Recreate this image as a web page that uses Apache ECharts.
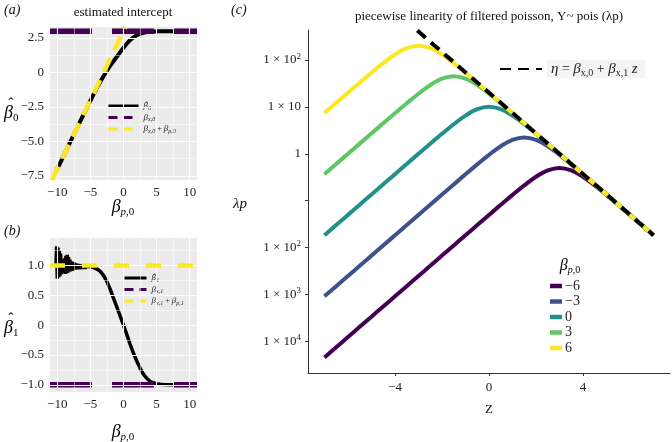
<!DOCTYPE html>
<html><head><meta charset="utf-8">
<script src="https://cdn.jsdelivr.net/npm/echarts@6/dist/echarts.min.js"></script>
<style>html,body{margin:0;padding:0;background:#fff}#c{width:672px;height:442px}</style>
</head><body><div id="c"></div>
<script>
// ---------------- Panel (a): estimated intercept ----------------
const aBetaP0   = [-10.2, -9, -8, -7, -6, -5, -4, -3, -2, -1, 0, 1, 2, 3, 4, 5, 6, 7.5];
const aBetaHat0 = [-7.2, -6.0, -5.0, -4.0, -3.02, -2.05, -1.1, -0.25, 0.5, 1.15, 1.8, 2.35, 2.7, 2.88, 2.95, 2.98, 3.0, 3.0];
const aBetaX0 = 3;
const aSumX = [-10.8, 0.3];
const aSumY = [-7.8, 3.3];
const abXRange = [-11.1, 11.1];
const aYRange = [-7.8, 3.3];
const abXTicks = [-10, -5, 0, 5, 10];
const abXMinor = [-7.5, -2.5, 2.5, 7.5];
const aYTicks = [-7.5, -5, -2.5, 0, 2.5];
const aYMinor = [-6.25, -3.75, -1.25, 1.25];

// ---------------- Panel (b): estimated slope ----------------
const bBetaP0 = [-10.2,-10.1,-10.0,-9.9,-9.8,-9.7,-9.6,-9.5,-9.4,-9.3,-9.2,-9.1,-9.0,-8.9,-8.8,-8.7,-8.6,-8.5,-8.4,-8.3,-8.2,-8.1,-8.0,-7.9,-7.8,-7.7,-7.6,-7.5,-7.4,-7.3,-7.2,-7.1,-7.0,-6.8,-6.6,-6.4,-6.2,-6.0,-5.8,-5.6,-5.4,-5.2,-5.0,-4.5,-4,-3.5,-3,-2.5,-2,-1.5,-1,-0.5,0,0.5,1,1.5,2,2.5,3,3.5,4,4.5,5,5.5,6,7,7.5];
const bBetaHat1 = [1.0,1.32,0.78,1.3,0.8,1.25,0.82,1.2,0.85,1.1,0.9,1.05,0.88,1.12,0.86,1.16,0.87,1.18,0.88,1.14,0.9,1.1,0.9,1.07,0.91,1.06,0.92,1.05,0.93,1.04,0.93,1.03,0.94,1.02,0.94,1.01,0.95,1.0,0.95,0.99,0.96,0.98,0.96,0.965,0.94,0.9,0.83,0.73,0.6,0.45,0.3,0.15,0,-0.16,-0.32,-0.47,-0.6,-0.72,-0.82,-0.89,-0.94,-0.965,-0.98,-0.99,-0.995,-1.0,-1.0];
const bBetaX1 = -1;
const bBetaSum1 = 1;
const bYRange = [-1.12, 1.46];
const bYTicks = [-1, -0.5, 0, 0.5, 1];
const bYMinor = [-0.75, -0.25, 0.25, 0.75, 1.25];

// ---------------- Panel (c): log10(lambda p) vs z ----------------
const zGrid = [-7,-6.5,-6,-5.5,-5,-4.5,-4,-3.5,-3,-2.5,-2,-1.5,-1,-0.5,0,0.5,1,1.5,2,2.5,3,3.5,4,4.5,5,5.5,6,6.5,7];
const cSeriesNames = ['−6', '−3', '0', '3', '6'];
const cColors = ['#440154', '#3B528B', '#21908C', '#5DC863', '#FDE725'];
const logLamP_m6 = [-4.343,-4.126,-3.909,-3.691,-3.474,-3.257,-3.040,-2.823,-2.606,-2.389,-2.171,-1.954,-1.737,-1.520,-1.304,-1.089,-0.876,-0.673,-0.489,-0.353,-0.301,-0.353,-0.489,-0.673,-0.876,-1.089,-1.304,-1.520,-1.737];
const logLamP_m3 = [-3.040,-2.823,-2.606,-2.389,-2.172,-1.955,-1.738,-1.520,-1.303,-1.086,-0.869,-0.653,-0.438,-0.225,-0.022,0.162,0.298,0.350,0.298,0.162,-0.022,-0.225,-0.438,-0.653,-0.869,-1.086,-1.303,-1.520,-1.738];
const logLamP_0  = [-1.737,-1.520,-1.303,-1.086,-0.868,-0.651,-0.434,-0.217,0.000,0.214,0.427,0.630,0.814,0.950,1.002,0.950,0.814,0.630,0.427,0.214,0.000,-0.217,-0.434,-0.651,-0.868,-1.086,-1.303,-1.520,-1.737];
const logLamP_3  = [-0.435,-0.217,0.000,0.217,0.434,0.650,0.865,1.078,1.281,1.465,1.601,1.653,1.601,1.465,1.281,1.078,0.865,0.650,0.434,0.217,0.000,-0.217,-0.435,-0.652,-0.869,-1.086,-1.303,-1.520,-1.737];
const logLamP_6  = [0.869,1.086,1.302,1.517,1.730,1.933,2.117,2.253,2.305,2.253,2.117,1.933,1.730,1.517,1.302,1.086,0.869,0.652,0.435,0.217,0.000,-0.217,-0.434,-0.651,-0.868,-1.085,-1.303,-1.520,-1.737];
const cLogValues = [logLamP_m6, logLamP_m3, logLamP_0, logLamP_3, logLamP_6];
const etaZ = [-3.05, 7];
const etaLog = [2.627, -1.737];
const cXRange = [-7.7, 7.7];
const cYRange = [-4.675, 2.64];
const cXTicks = [-4, 0, 4];
const cYTicks = [-4, -3, -2, -1, 0, 1, 2];
const cYTickLabels = ['1 × 10{sup|4}', '1 × 10{sup|3}', '1 × 10{sup|2}', '', '1', '1 × 10', '1 × 10{sup|2}'];

// ---------------- rendering ----------------
const FONT = '"Liberation Serif", "DejaVu Serif", serif';
const HATFONT = '"DejaVu Serif", serif';
const GREY = '#EBEBEB';
const fmtNum = (v, dec) => v === 0 ? '0' : (v < 0 ? '−' : '') + Math.abs(v).toFixed(dec);
const zip = (xs, ys) => xs.map((x, i) => [x, ys[i]]);

const chart = echarts.init(document.getElementById('c'), null, {renderer: 'canvas'});

function gridLines(xMajor, xMinor, yMajor, yMinor) {
  const d = [];
  xMajor.forEach(v => d.push({xAxis: v, lineStyle: {width: 1.1}}));
  xMinor.forEach(v => d.push({xAxis: v, lineStyle: {width: 0.5}}));
  yMajor.forEach(v => d.push({yAxis: v, lineStyle: {width: 1.1}}));
  yMinor.forEach(v => d.push({yAxis: v, lineStyle: {width: 0.5}}));
  return d;
}

function abXAxis(gi) {
  return {
    gridIndex: gi, type: 'value', min: abXRange[0], max: abXRange[1],
    axisLine: {show: false}, splitLine: {show: false},
    axisTick: {show: true, customValues: abXTicks, length: 3, lineStyle: {color: '#333', width: 1}},
    axisLabel: {customValues: abXTicks, formatter: v => fmtNum(v, 0), fontFamily: FONT, fontSize: 13, color: '#222', margin: 6}
  };
}

const richSmall = {
  b: {fontFamily: FONT, fontSize: 9, fontStyle: 'italic', color: '#222'},
  h: {fontFamily: HATFONT, fontSize: 8, fontStyle: 'italic', color: '#222'},
  s: {fontFamily: FONT, fontSize: 6, fontStyle: 'italic', color: '#222', padding: [4, 0, 0, 0]},
  t: {fontFamily: FONT, fontSize: 8, color: '#222'}
};
const legendLabels = {
  a_hat: '{h|β\u0302}{s|0}',
  a_x0: '{b|β}{s|x,0}',
  a_sum: '{b|β}{s|x,0}{t| + }{b|β}{s|p,0}',
  b_hat: '{h|β\u0302}{s|1}',
  b_x1: '{b|β}{s|x,1}',
  b_sum: '{b|β}{s|x,1}{t| + }{b|β}{s|p,1}'
};

const richBig = {
  b: {fontFamily: FONT, fontSize: 18, fontStyle: 'italic', color: '#111'},
  s: {fontFamily: FONT, fontSize: 11, fontStyle: 'italic', color: '#111', padding: [10, 0, 0, 0]},
  n: {fontFamily: FONT, fontSize: 11, color: '#111', padding: [10, 0, 0, 0]}
};

const series = [];
// grid lines panels a & b
series.push({type: 'line', xAxisIndex: 0, yAxisIndex: 0, data: [], z: 1, silent: true,
  markLine: {silent: true, symbol: 'none', animation: false, label: {show: false}, lineStyle: {color: '#fff', type: 'solid'},
    data: gridLines(abXTicks, abXMinor, aYTicks, aYMinor)}});
series.push({type: 'line', xAxisIndex: 1, yAxisIndex: 1, data: [], z: 1, silent: true,
  markLine: {silent: true, symbol: 'none', animation: false, label: {show: false}, lineStyle: {color: '#fff', type: 'solid'},
    data: gridLines(abXTicks, abXMinor, bYTicks, bYMinor)}});

// panel a
series.push({name: 'a_hat', type: 'line', xAxisIndex: 0, yAxisIndex: 0, symbol: 'none', smooth: 0.3, z: 3,
  color: '#000', lineStyle: {color: '#000', width: 4}, data: zip(aBetaP0, aBetaHat0)});
series.push({name: 'a_x0', type: 'line', xAxisIndex: 0, yAxisIndex: 0, symbol: 'none', z: 4,
  color: '#440154', lineStyle: {color: '#440154', width: 5.5, type: [42, 20]}, data: zip(abXRange, [aBetaX0, aBetaX0])});
series.push({name: 'a_sum', type: 'line', xAxisIndex: 0, yAxisIndex: 0, symbol: 'none', z: 5,
  color: '#FDE725', lineStyle: {color: '#FDE725', width: 4.5, type: [15, 9]}, data: zip(aSumX, aSumY)});
// panel b
series.push({name: 'b_hat', type: 'line', xAxisIndex: 1, yAxisIndex: 1, symbol: 'none', z: 3,
  color: '#000', lineStyle: {color: '#000', width: 3.5}, data: zip(bBetaP0, bBetaHat1)});
series.push({name: 'b_x1', type: 'line', xAxisIndex: 1, yAxisIndex: 1, symbol: 'none', z: 4,
  color: '#440154', lineStyle: {color: '#440154', width: 5.5, type: [42, 20]}, data: zip(abXRange, [bBetaX1, bBetaX1])});
series.push({name: 'b_sum', type: 'line', xAxisIndex: 1, yAxisIndex: 1, symbol: 'none', z: 5,
  color: '#FDE725', lineStyle: {color: '#FDE725', width: 4.5, type: [15, 17]}, data: zip(abXRange, [bBetaSum1, bBetaSum1])});
// panel c
cLogValues.forEach((vals, i) => {
  series.push({name: cSeriesNames[i], type: 'line', xAxisIndex: 2, yAxisIndex: 2, symbol: 'none', smooth: 0.4, z: 3 + i * 0.1,
    color: cColors[i], lineStyle: {color: cColors[i], width: 4}, data: zip(zGrid, vals)});
});
series.push({name: 'eta', type: 'line', xAxisIndex: 2, yAxisIndex: 2, symbol: 'none', z: 5,
  color: '#000', lineStyle: {color: '#000', width: 4, type: [11, 7]}, data: zip(etaZ, etaLog)});

const noSym = {opacity: 0, borderWidth: 0};
const hat = (x, y) => ({type: 'text', x: x, y: y, style: {text: 'ˆ', fontFamily: FONT, fontSize: 16, fill: '#111', align: 'center', verticalAlign: 'middle'}});

const option = {
  animation: false,
  backgroundColor: '#fff',
  grid: [
    {left: 50, top: 27, width: 147, height: 153, show: true, backgroundColor: GREY, borderWidth: 0},
    {left: 50, top: 238, width: 147, height: 154, show: true, backgroundColor: GREY, borderWidth: 0},
    {left: 308, top: 30, right: 2, bottom: 69}
  ],
  xAxis: [
    abXAxis(0), abXAxis(1),
    {gridIndex: 2, type: 'value', min: cXRange[0], max: cXRange[1], splitLine: {show: false},
      axisLine: {show: true, onZero: false, lineStyle: {color: '#333', width: 1}},
      axisTick: {show: true, customValues: cXTicks, length: 3, lineStyle: {color: '#333'}},
      axisLabel: {customValues: cXTicks, formatter: v => fmtNum(v, 0), fontFamily: FONT, fontSize: 13, color: '#222', margin: 8}}
  ],
  yAxis: [
    {gridIndex: 0, type: 'value', min: aYRange[0], max: aYRange[1], axisLine: {show: false}, splitLine: {show: false},
      axisTick: {show: true, customValues: aYTicks, length: 3, lineStyle: {color: '#333'}},
      axisLabel: {customValues: aYTicks, formatter: v => fmtNum(v, 1), fontFamily: FONT, fontSize: 13, color: '#222', margin: 6}},
    {gridIndex: 1, type: 'value', min: bYRange[0], max: bYRange[1], axisLine: {show: false}, splitLine: {show: false},
      axisTick: {show: true, customValues: bYTicks, length: 3, lineStyle: {color: '#333'}},
      axisLabel: {customValues: bYTicks, formatter: v => fmtNum(v, 1), fontFamily: FONT, fontSize: 13, color: '#222', margin: 6}},
    {gridIndex: 2, type: 'value', min: cYRange[0], max: cYRange[1], splitLine: {show: false},
      axisLine: {show: true, onZero: false, lineStyle: {color: '#333', width: 1}},
      axisTick: {show: true, customValues: cYTicks, length: 3, lineStyle: {color: '#333'}},
      axisLabel: {customValues: cYTicks, formatter: v => cYTickLabels[cYTicks.indexOf(Math.round(v))],
        fontFamily: FONT, fontSize: 13, color: '#222', margin: 7,
        rich: {sup: {fontFamily: FONT, fontSize: 9, color: '#222', padding: [0, 0, 7, 0]}}}}
  ],
  legend: [
    {data: [{name: 'a_hat', lineStyle: {type: 'solid', width: 3}, itemStyle: noSym}, {name: 'a_x0', lineStyle: {type: [9, 6], width: 3}, itemStyle: noSym}, {name: 'a_sum', lineStyle: {type: [9, 6], width: 3}, itemStyle: noSym}],
      orient: 'vertical', left: 105, top: 101, itemWidth: 30, itemHeight: 8, itemGap: 2, padding: [1, 3, 1, 2],
      backgroundColor: GREY, selectedMode: false, formatter: n => legendLabels[n], textStyle: {rich: richSmall}},
    {data: [{name: 'b_hat', lineStyle: {type: 'solid', width: 3}, itemStyle: noSym}, {name: 'b_x1', lineStyle: {type: [9, 6], width: 3}, itemStyle: noSym}, {name: 'b_sum', lineStyle: {type: [9, 6], width: 3}, itemStyle: noSym}],
      orient: 'vertical', left: 121, top: 273, itemWidth: 22, itemHeight: 8, itemGap: 2, padding: [1, 3, 1, 2],
      backgroundColor: GREY, selectedMode: false, formatter: n => legendLabels[n], textStyle: {rich: richSmall}},
    {data: cSeriesNames.map(n => ({name: n})), orient: 'vertical', left: 550, top: 279, icon: 'rect',
      itemWidth: 12, itemHeight: 4.5, itemGap: 1.5, padding: 0, selectedMode: false,
      textStyle: {fontFamily: FONT, fontSize: 14, color: '#222', lineHeight: 12, padding: [0, 0, 0, -2]}},
    {data: [{name: 'eta', itemStyle: noSym}], left: 499, top: 60, itemWidth: 42, itemHeight: 12, padding: 0, selectedMode: false,
      formatter: () => '{i|η} = {i|β}{s|x,0} + {i|β}{s|x,1} {i|z}',
      textStyle: {fontFamily: FONT, fontSize: 14, color: '#222', backgroundColor: '#F4F4F4', padding: [0, 8, 0, 4],
        rich: {i: {fontFamily: FONT, fontSize: 15, fontStyle: 'italic', color: '#222'},
               s: {fontFamily: FONT, fontSize: 10, color: '#222', padding: [8, 0, 0, 0]}}}}
  ],
  graphic: [
    {type: 'text', x: 4, y: 3, style: {text: '(a)', fontFamily: FONT, fontSize: 14, fontStyle: 'italic', fill: '#111'}},
    {type: 'text', x: 123, y: 13, style: {text: 'estimated intercept', fontFamily: FONT, fontSize: 13, fill: '#111', align: 'center', verticalAlign: 'middle'}},
    {type: 'text', x: 4, y: 224, style: {text: '(b)', fontFamily: FONT, fontSize: 14, fontStyle: 'italic', fill: '#111'}},
    {type: 'text', x: 231, y: 3, style: {text: '(c)', fontFamily: FONT, fontSize: 14, fontStyle: 'italic', fill: '#111'}},
    {type: 'text', x: 489, y: 17, style: {text: 'piecewise linearity of filtered poisson, Y~ pois (λp)', fontFamily: FONT, fontSize: 13, fill: '#111', align: 'center', verticalAlign: 'middle'}},
    {type: 'text', x: 4, y: 113, style: {text: '{b|β}{n|0}', rich: richBig, verticalAlign: 'middle'}},
    hat(11, 105),
    {type: 'text', x: 4, y: 328, style: {text: '{b|β}{n|1}', rich: richBig, verticalAlign: 'middle'}},
    hat(11, 320),
    {type: 'text', x: 123, y: 207, style: {text: '{b|β}{s|p}{n|,0}', rich: richBig, align: 'center', verticalAlign: 'middle'}},
    {type: 'text', x: 123, y: 432, style: {text: '{b|β}{s|p}{n|,0}', rich: richBig, align: 'center', verticalAlign: 'middle'}},
    {type: 'text', x: 240, y: 204, style: {text: 'λp', fontFamily: FONT, fontSize: 15, fontStyle: 'italic', fill: '#111', align: 'center', verticalAlign: 'middle'}},
    {type: 'text', x: 489, y: 410, style: {text: 'Z', fontFamily: FONT, fontSize: 13, fill: '#111', align: 'center', verticalAlign: 'middle'}},
    {type: 'text', x: 570, y: 266, style: {text: '{b|β}{s|p}{n|,0}', rich: {
      b: {fontFamily: FONT, fontSize: 16, fontStyle: 'italic', color: '#111'},
      s: {fontFamily: FONT, fontSize: 10, fontStyle: 'italic', color: '#111', padding: [8, 0, 0, 0]},
      n: {fontFamily: FONT, fontSize: 10, color: '#111', padding: [8, 0, 0, 0]}}, align: 'center', verticalAlign: 'middle'}}
  ],
  series: series
};
chart.setOption(option);
</script></body></html>
